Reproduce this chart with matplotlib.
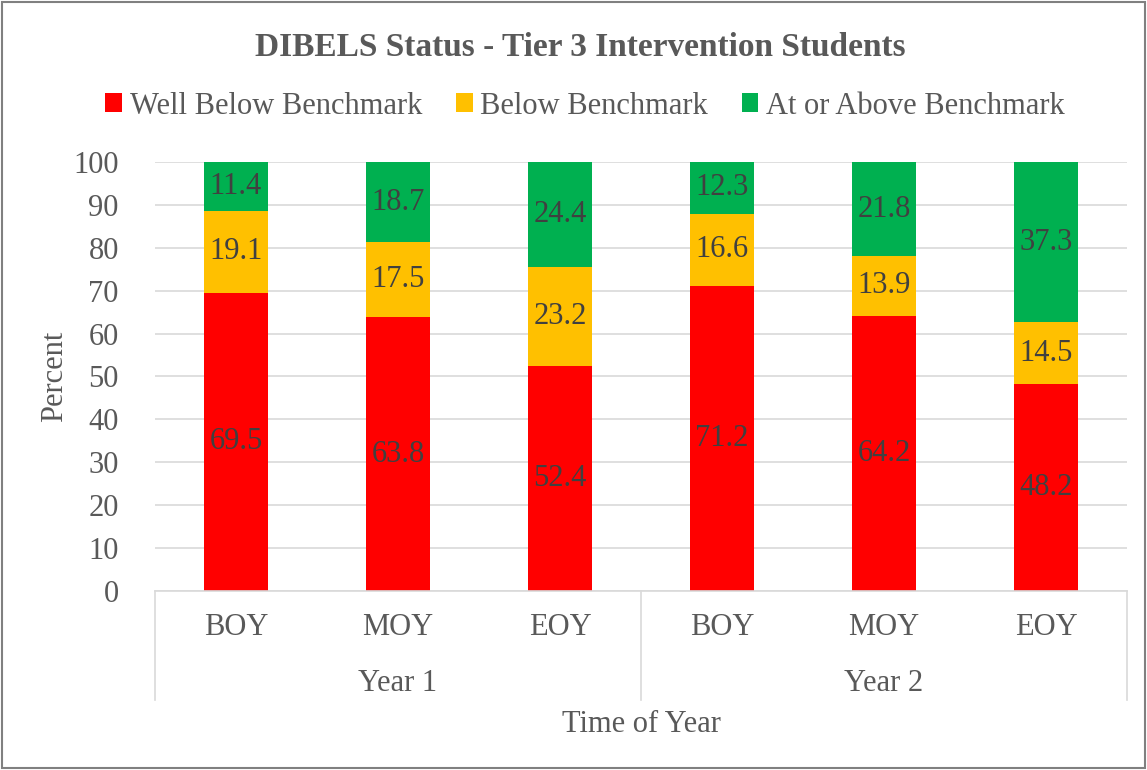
import numpy as np
import matplotlib.pyplot as plt
from matplotlib.transforms import blended_transform_factory

plt.rcParams['font.family'] = ['Liberation Serif', 'DejaVu Serif']

# данные
periods = ['BOY', 'MOY', 'EOY', 'BOY', 'MOY', 'EOY']
years = ['Year 1', 'Year 2']
well_below = [69.5, 63.8, 52.4, 71.2, 64.2, 48.2]
below = [19.1, 17.5, 23.2, 16.6, 13.9, 14.5]
at_above = [11.4, 18.7, 24.4, 12.3, 21.8, 37.3]

series = [
    ('Well Below Benchmark', well_below, '#ff0000'),
    ('Below Benchmark', below, '#ffc000'),
    ('At or Above Benchmark', at_above, '#00b050'),
]

fig = plt.figure(figsize=(11.47, 7.70), dpi=100)
ax = fig.add_axes([0.1351, 0.2325, 0.8475, 0.5571])

x = np.arange(len(periods))
bottom = np.zeros(len(periods))
for name, vals, col in series:
    vals = np.array(vals)
    ax.bar(x, vals, 0.4, bottom=bottom, color=col, label=name, zorder=2)
    for xi, b, v in zip(x, bottom, vals):
        ax.text(xi, b + v / 2, f'{v:.1f}', ha='center', va='center',
                fontsize=22, color='#404040', zorder=3)
    bottom += vals

ax.set_xlim(-0.5, len(periods) - 0.5)
ax.set_ylim(0, 100)
ax.set_yticks(range(0, 101, 10))
ax.tick_params(axis='y', length=0, labelsize=22, labelcolor='#595959', pad=26)
ax.set_xticks([])
ax.grid(axis='y', color='#d9d9d9', linewidth=1.2, zorder=0)
for s in ['top', 'right', 'left']:
    ax.spines[s].set_visible(False)
ax.spines['bottom'].set_color('#d9d9d9')
ax.spines['bottom'].set_linewidth(1.2)

# подписи категорий в два уровня
tr = blended_transform_factory(ax.transData, ax.transAxes)
for xi, p in zip(x, periods):
    ax.text(xi, -0.085, p, transform=tr, ha='center', va='center',
            fontsize=22, color='#595959')
for i, yname in enumerate(years):
    ax.text(i * 3 + 1, -0.215, yname, transform=tr, ha='center', va='center',
            fontsize=22, color='#595959')
for xb in [-0.5, 2.5, 5.5]:
    ax.plot([xb, xb], [0, -0.255], transform=tr, color='#d9d9d9',
            linewidth=1.2, clip_on=False)

ax.text(0.5, -0.312, 'Time of Year', transform=ax.transAxes, ha='center',
        va='center', fontsize=22, color='#595959')
fig.text(55 / 1147, 1 - 376 / 770, 'Percent', rotation=90, ha='center',
         va='center', fontsize=22, color='#595959')

fig.text(580 / 1147, 1 - 48 / 770, 'DIBELS Status - Tier 3 Intervention Students',
         ha='center', va='center', fontsize=24, fontweight='bold', color='#595959')
fig.legend(loc='center', bbox_to_anchor=(585 / 1147, 1 - 106 / 770), ncol=3,
           frameon=False, fontsize=22, labelcolor='#595959', handlelength=0.55,
           handleheight=0.55, handletextpad=0.25, columnspacing=1.1)

fig.patches.append(plt.Rectangle((0.002, 0.002), 0.996, 0.996, transform=fig.transFigure,
                                 fill=False, edgecolor='#808080', linewidth=1.5))

plt.savefig('out.png', dpi=100)
